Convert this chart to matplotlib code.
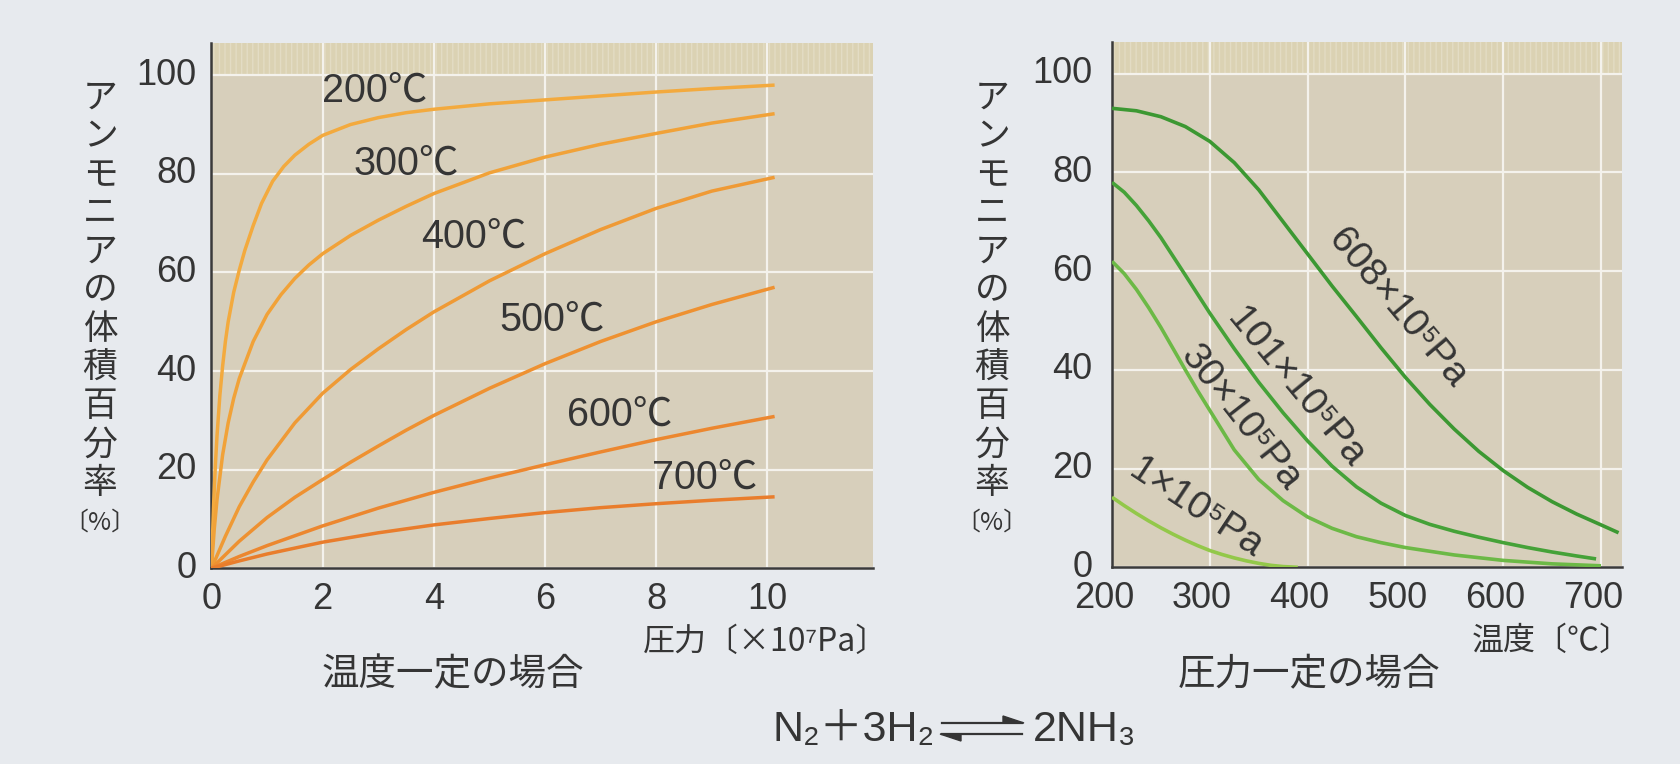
import matplotlib
matplotlib.use('Agg')
import matplotlib.pyplot as plt
import matplotlib.transforms as mtrans
from matplotlib.lines import Line2D
from matplotlib.patches import Polygon

# ---------------- data ----------------
# Left panel: pressure [x10^7 Pa] vs NH3 volume % at constant temperature
p200 = [0, 0.02, 0.04, 0.07, 0.1, 0.15, 0.2, 0.25, 0.3, 0.4, 0.5, 0.6, 0.75, 0.9, 1.1,
        1.3, 1.5, 1.75, 2, 2.5, 3, 3.5, 4, 5, 6, 7, 8, 9, 10.13]
y200 = [0, 7, 13.5, 21, 27, 35, 41, 46, 50, 56, 60.5, 64.5, 69.5, 74, 78.5,
        81.5, 83.8, 86, 87.8, 90, 91.4, 92.4, 93.1, 94.2, 95, 95.8, 96.6, 97.3, 98]
p300 = [0, 0.05, 0.1, 0.2, 0.3, 0.4, 0.5, 0.75, 1, 1.25, 1.5, 1.75, 2, 2.5, 3, 3.5, 4,
        5, 6, 7, 8, 9, 10.13]
y300 = [0, 8, 14, 23, 29.5, 34.5, 38.5, 46, 51.5, 55.5, 58.8, 61.5, 63.8, 67.5, 70.6,
        73.4, 76, 80.2, 83.4, 86, 88.2, 90.3, 92.2]
p400 = [0, 0.25, 0.5, 0.75, 1, 1.5, 2, 2.5, 3, 3.5, 4, 5, 6, 7, 8, 9, 10.13]
y400 = [0, 6.5, 12.5, 17.5, 22, 29.5, 35.5, 40.3, 44.5, 48.4, 52, 58.3, 63.8, 68.7, 73,
        76.5, 79.3]
p500 = [0, 0.5, 1, 1.5, 2, 2.5, 3, 3.5, 4, 5, 6, 7, 8, 9, 10.13]
y500 = [0, 5.5, 10.3, 14.4, 18, 21.5, 24.8, 28, 31, 36.5, 41.5, 46, 50, 53.5, 57]
p600 = [0, 0.5, 1, 2, 3, 4, 5, 6, 7, 8, 9, 10.13]
y600 = [0, 2.4, 4.6, 8.6, 12.2, 15.4, 18.3, 21, 23.6, 26.1, 28.4, 30.8]
p700 = [0, 0.5, 1, 2, 3, 4, 5, 6, 7, 8, 9, 10.13]
y700 = [0, 1.5, 2.9, 5.3, 7.2, 8.8, 10.1, 11.3, 12.3, 13.1, 13.8, 14.5]

temp_labels = ['200℃', '300℃', '400℃', '500℃', '600℃', '700℃']
temp_label_pos = [(2.94, 96.9), (3.51, 82), (4.71, 67.3), (6.12, 50.4), (7.35, 31.1), (8.87, 18.4)]
temp_colors = ['#f3aa3e', '#f1a238', '#ef9a35', '#ee9131', '#ec872f', '#e97d2c']

# Right panel: temperature [°C] vs NH3 volume % at constant pressure
T608 = [200, 225, 250, 275, 300, 325, 350, 375, 400, 425, 450, 475, 500, 525, 550, 575,
        600, 625, 650, 675, 700, 718]
y608 = [93, 92.5, 91.3, 89.3, 86.3, 82, 76.5, 70, 63.5, 57, 50.8, 44.5, 38.5, 33, 28, 23.5,
        19.6, 16.2, 13.3, 10.8, 8.6, 7]
T101 = [200, 212.5, 225, 237.5, 250, 262.5, 275, 300, 325, 350, 375, 400, 425, 450, 475,
        500, 525, 550, 575, 600, 625, 650, 675, 695]
y101 = [78, 76, 73.3, 70.2, 66.8, 63, 59.2, 51.5, 44.3, 37.5, 31.3, 25.6, 20.5, 16.3, 13,
        10.5, 8.7, 7.3, 6.1, 5, 4, 3.1, 2.3, 1.7]
T30 = [200, 212.5, 225, 237.5, 250, 262.5, 275, 287.5, 300, 325, 350, 375, 400, 425, 450,
       475, 500, 550, 600, 650, 700]
y30 = [62, 59.5, 56.3, 52.6, 48.6, 44.3, 40, 35.8, 31.8, 23.8, 17.8, 13.5, 10.2, 7.9, 6.2,
       5, 4, 2.5, 1.4, 0.7, 0.3]
T1 = [200, 212.5, 225, 237.5, 250, 262.5, 275, 287.5, 300, 312.5, 325, 337.5, 350, 362.5,
      375, 390]
y1 = [14.2, 12.5, 10.9, 9.4, 8, 6.7, 5.5, 4.4, 3.4, 2.6, 1.9, 1.3, 0.8, 0.4, 0.15, 0]

press_labels = ['608×10⁵Pa', '101×10⁵Pa', '30×10⁵Pa', '1×10⁵Pa']
press_label_pos = [(491.8, 52.5), (387.7, 36.3), (332, 30.2), (285.4, 12)]
press_label_rot = [-50, -50.5, -52, -33.5]
press_colors = ['#3c9832', '#45a238', '#6cb946', '#93c84a']

left_xticks = [0, 2, 4, 6, 8, 10]
right_xticks = [200, 300, 400, 500, 600, 700]
yticks = [0, 20, 40, 60, 80, 100]

ylabel_chars = 'アンモニアの体積百分率'

# ---------------- style ----------------
LAT = ['Liberation Sans', 'Noto Sans CJK JP', 'DejaVu Sans']
JP = ['Noto Sans CJK JP', 'Liberation Sans', 'DejaVu Sans']
plt.rcParams['font.family'] = LAT
plt.rcParams['hatch.linewidth'] = 1.0
TXT = '#353535'

W, H = 1681, 764
fig = plt.figure(figsize=(W / 100, H / 100), dpi=100)
fig.patch.set_facecolor('#e7eaee')


def fx(px):
    return px / W


def fy(py):
    return 1 - py / H


axL = fig.add_axes([fx(211.5), fy(568.3), fx(873) - fx(211.5), fy(42.7) - fy(568.3)])
axR = fig.add_axes([fx(1112), fy(567.3), fx(1622) - fx(1112), fy(41.7) - fy(567.3)])


def style(ax, xlim, ylim, xticks, ypad, xshift):
    ax.set_facecolor('#d7cfbb')
    ax.set_xlim(*xlim)
    ax.set_ylim(*ylim)
    ax.axhspan(100, ylim[1], facecolor='#dbd2b3', edgecolor='#e3dcc4', hatch='|||',
               lw=0, zorder=0)
    ax.set_axisbelow(True)
    ax.grid(True, color='#f4f2ec', lw=1.6)
    for s in ('top', 'right'):
        ax.spines[s].set_visible(False)
    for s in ('left', 'bottom'):
        ax.spines[s].set_color('#3a3a3a')
        ax.spines[s].set_linewidth(1.8)
    ax.set_xticks(xticks)
    ax.set_yticks(yticks)
    ax.tick_params(axis='both', length=0, labelsize=26, labelcolor=TXT)
    ax.tick_params(axis='x', pad=10)
    ax.tick_params(axis='y', pad=ypad)
    up = mtrans.ScaledTranslation(0, 0.04, fig.dpi_scale_trans)
    for lab in ax.get_yticklabels():
        lab.set_transform(lab.get_transform() + up)
    sh = mtrans.ScaledTranslation(xshift, 0, fig.dpi_scale_trans)
    for lab in ax.get_xticklabels():
        lab.set_transform(lab.get_transform() + sh)


style(axL, (0, 11.9), (0, 106.6), left_xticks, 11, 0.0)
style(axR, (200, 721.5), (0, 106.5), right_xticks, 14, -0.08)

# left curves
for (px, py), c in zip([(p200, y200), (p300, y300), (p400, y400), (p500, y500),
                        (p600, y600), (p700, y700)], temp_colors):
    axL.plot(px, py, color=c, lw=2.5, solid_capstyle='butt', solid_joinstyle='round',
             zorder=3)
for lab, (lx, ly) in zip(temp_labels, temp_label_pos):
    axL.text(lx, ly, lab, fontsize=28.5, color=TXT, ha='center', va='center', zorder=4)

# right curves
for (tx, ty), c in zip([(T608, y608), (T101, y101), (T30, y30), (T1, y1)], press_colors):
    axR.plot(tx, ty, color=c, lw=2.6, solid_capstyle='butt', solid_joinstyle='round',
             zorder=3)
for lab, (lx, ly), r in zip(press_labels, press_label_pos, press_label_rot):
    axR.text(lx, ly, lab, fontsize=28, color=TXT, ha='center', va='center',
             rotation=r, rotation_mode='anchor', zorder=4)

# stacked vertical y labels
for xc in (100, 992):
    top, step = 79, 38.5
    for i, ch in enumerate(ylabel_chars):
        fig.text(fx(xc), fy(top + (i + 0.5) * step), ch, family=JP, fontsize=25,
                 color=TXT, ha='center', va='center')
    fig.text(fx(xc), fy(523), '〔%〕', family=JP, fontsize=18, color=TXT,
             ha='center', va='center')

# axis unit labels and captions
fig.text(fx(888), fy(642), '圧力〔×10⁷Pa〕', family=JP, fontsize=23, color=TXT,
         ha='right', va='center')
fig.text(fx(1632), fy(641), '温度〔℃〕', family=JP, fontsize=23, color=TXT,
         ha='right', va='center')
fig.text(fx(453), fy(675), '温度一定の場合', family=JP, fontsize=27, color=TXT,
         ha='center', va='center')
fig.text(fx(1309), fy(675), '圧力一定の場合', family=JP, fontsize=27, color=TXT,
         ha='center', va='center')

# equation N2 + 3H2 <=> 2NH3
fig.text(fx(935), fy(730), 'N₂＋3H₂', family=['Liberation Sans', 'DejaVu Sans', 'Noto Sans CJK JP'],
         fontsize=31, color=TXT, ha='right', va='center')
fig.text(fx(1033), fy(730), '2NH₃', family=['Liberation Sans', 'DejaVu Sans'],
         fontsize=31, color=TXT, ha='left', va='center')
for (x0, x1, yy) in [(942, 1022, 723), (942, 1022, 734)]:
    fig.add_artist(Line2D([fx(x0), fx(x1)], [fy(yy), fy(yy)], color=TXT, lw=1.6,
                          transform=fig.transFigure))
fig.add_artist(Polygon([(fx(1024), fy(723)), (fx(1003), fy(716)), (fx(1003), fy(723))],
                       closed=True, color=TXT, transform=fig.transFigure))
fig.add_artist(Polygon([(fx(940), fy(734)), (fx(961), fy(741)), (fx(961), fy(734))],
                       closed=True, color=TXT, transform=fig.transFigure))

fig.savefig('out.png', dpi=100, facecolor=fig.get_facecolor())
